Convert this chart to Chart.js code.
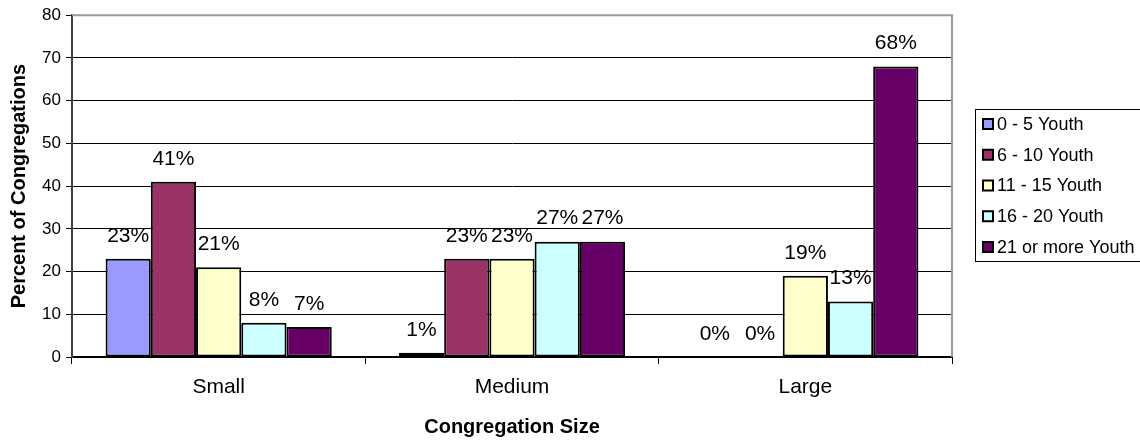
<!DOCTYPE html>
<html>
<head>
<meta charset="utf-8">
<title>Youth by Congregation Size</title>
<script src="https://cdn.jsdelivr.net/npm/chart.js@4/dist/chart.umd.min.js"></script>
<style>
  html, body { margin: 0; padding: 0; background: #ffffff; }
  #wrap { width: 1140px; height: 441px; }
</style>
</head>
<body>
<div id="wrap"><canvas id="chart" width="1140" height="441"></canvas></div>
<script>
// Congregation sizes along the x axis
const categories = ['Small', 'Medium', 'Large'];

// Youth group size bands (one series each)
const seriesNames = ['0 - 5 Youth', '6 - 10 Youth', '11 - 15 Youth', '16 - 20 Youth', '21 or more Youth'];

// Percent of congregations, per band, for Small / Medium / Large
const youth0to5   = [23, 1, 0];
const youth6to10  = [41, 23, 0];
const youth11to15 = [21, 23, 19];
const youth16to20 = [8, 27, 13];
const youth21plus = [7, 27, 68];

// Y axis range and tick step
const yMin = 0;
const yMax = 80;
const yStep = 10;

const seriesValues = [youth0to5, youth6to10, youth11to15, youth16to20, youth21plus];
const seriesColors = ['#9999FF', '#993366', '#FFFFCC', '#CCFFFF', '#660066'];

const FONT = "'Liberation Sans', Arial, Helvetica, sans-serif";

// Percent labels above each bar
const valueLabels = {
  id: 'valueLabels',
  afterDatasetsDraw(chart) {
    const ctx = chart.ctx;
    ctx.save();
    ctx.font = '21px ' + FONT;
    ctx.fillStyle = '#000000';
    ctx.textAlign = 'center';
    ctx.textBaseline = 'middle';
    chart.data.datasets.forEach((ds, i) => {
      const meta = chart.getDatasetMeta(i);
      meta.data.forEach((bar, j) => {
        ctx.fillText(ds.data[j] + '%', bar.x, bar.y - 23);
      });
    });
    ctx.restore();
  }
};

// Grey plot-area frame on the top and right edges
const plotFrame = {
  id: 'plotFrame',
  beforeDatasetsDraw(chart) {
    const { ctx, chartArea: a } = chart;
    ctx.save();
    ctx.strokeStyle = '#999999';
    ctx.lineWidth = 2;
    ctx.beginPath();
    ctx.moveTo(a.left, a.top);
    ctx.lineTo(a.right, a.top);
    ctx.lineTo(a.right, a.bottom);
    ctx.stroke();
    ctx.restore();
  }
};

// Boxed legend at the right side
const boxLegend = {
  id: 'boxLegend',
  afterDraw(chart) {
    const ctx = chart.ctx;
    const left = 975, top = 109, bottom = 261;
    const firstY = 124, step = 30.75;
    ctx.save();
    ctx.strokeStyle = '#000000';
    ctx.lineWidth = 1;
    ctx.strokeRect(left + 0.5, top + 0.5, 1200 - left, bottom - top);
    ctx.font = '18px ' + FONT;
    ctx.textAlign = 'left';
    ctx.textBaseline = 'middle';
    chart.data.datasets.forEach((ds, i) => {
      const y = firstY + i * step;
      ctx.fillStyle = ds.backgroundColor;
      ctx.fillRect(983, y - 5, 10, 10);
      ctx.lineWidth = 2;
      ctx.strokeStyle = '#000000';
      ctx.strokeRect(983, y - 5, 10, 10);
      ctx.fillStyle = '#000000';
      ctx.fillText(ds.label, 997, y + 1);
    });
    ctx.restore();
  }
};

const datasets = seriesNames.map((name, i) => ({
  label: name,
  data: seriesValues[i],
  backgroundColor: seriesColors[i],
  borderColor: '#000000',
  borderWidth: 2,
  borderSkipped: false,
  categoryPercentage: 0.771,
  barPercentage: 1.0
}));

new Chart(document.getElementById('chart'), {
  type: 'bar',
  data: { labels: categories, datasets },
  plugins: [plotFrame, valueLabels, boxLegend],
  options: {
    responsive: false,
    devicePixelRatio: 1,
    animation: false,
    layout: { padding: { top: 14, right: 188, bottom: 0, left: 0 } },
    plugins: {
      legend: { display: false },
      tooltip: { enabled: false }
    },
    scales: {
      x: {
        afterFit(scale) { scale.height = 84; },
        grid: {
          display: true,
          drawOnChartArea: false,
          drawTicks: true,
          tickLength: 7,
          tickColor: '#000000',
          offset: true
        },
        border: { display: true, color: '#000000', width: 2 },
        ticks: {
          color: '#000000',
          font: { family: FONT, size: 21 },
          padding: 11,
          maxRotation: 0
        },
        title: {
          display: true,
          text: 'Congregation Size',
          color: '#000000',
          font: { family: FONT, size: 20, weight: 'bold' },
          padding: { top: 0, bottom: 2 }
        }
      },
      y: {
        min: yMin,
        max: yMax,
        afterFit(scale) { scale.width = 72; },
        grid: {
          color: '#000000',
          lineWidth: 1,
          tickLength: 6,
          tickColor: '#000000'
        },
        border: { display: true, color: '#404040', width: 2 },
        ticks: {
          stepSize: yStep,
          color: '#000000',
          font: { family: FONT, size: 17 },
          padding: 5
        },
        title: {
          display: true,
          text: 'Percent of Congregations',
          color: '#000000',
          font: { family: FONT, size: 20, weight: 'bold' },
          padding: { top: 7, bottom: 0 }
        }
      }
    }
  }
});
</script>
</body>
</html>
